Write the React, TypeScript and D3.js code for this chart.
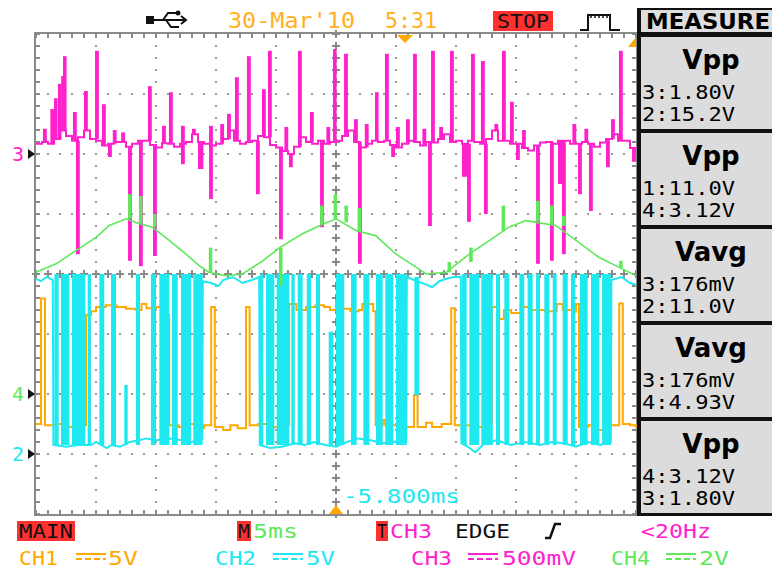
import React from "react";
import * as d3 from "d3";

const W = 772;
const H = 572;

// CH3 (magenta) resting level, one sample every 0.5 ms, in screen divisions
const ch3Base = [
  2.17, 2.2, 2.17, 2.25, 2.39, 2.3, 2.22, 2.28, 2.39, 2.25,
  2.22, 2.14, 2.17, 2.2, 2.2, 2.12, 2.17, 2.22, 2.22, 2.15,
  2.11, 2.18, 2.17, 2.12, 2.17, 2.2, 2.33, 2.2, 2.17, 2.14,
  2.17, 2.25, 2.39, 2.22, 2.17, 2.2, 2.22, 2.3, 2.28, 2.15,
  2.11, 2.05, 2.0, 2.12, 2.28, 2.2, 2.17, 2.22, 2.17, 2.2,
  2.22, 2.3, 2.39, 2.2, 2.11, 2.17, 2.22, 2.2, 2.22, 2.15,
  2.11, 2.17, 2.22, 2.2, 2.14, 2.2, 2.19, 2.25, 2.33, 2.2,
  2.22, 2.17, 2.22, 2.2, 2.17, 2.25, 2.39, 2.22, 2.22, 2.17,
  2.17, 2.1, 2.06, 2.14, 2.19, 2.2, 2.17, 2.22, 2.22, 2.17,
  2.17, 2.2, 2.17, 2.12, 2.19, 2.25, 2.33, 2.22, 2.22, 2.1,
  2.11,
];

// CH3 spikes: [ms, tip (div), width ms]
const ch3Up = [
  [0.58, 2.42], [1.2, 2.75, 0.35], [1.5, 2.93, 0.3], [1.83, 3.17, 0.3], [2.1, 3.3], [2.25, 3.63, 0.3],
  [3.08, 2.7], [4.0, 3.05], [4.92, 3.72], [5.5, 2.83], [6.4, 2.4], [7.1, 2.36], [9.33, 3.13],
  [10.5, 2.47], [11.08, 3.03], [12.08, 2.47], [13.0, 2.42], [14.42, 2.47], [15.35, 2.5],
  [15.92, 2.67], [16.58, 3.28], [17.58, 3.63], [18.83, 3.08], [19.33, 3.72], [20.7, 2.45],
  [21.83, 3.72], [22.83, 2.7], [24.2, 2.45], [24.75, 3.75, 0.3], [25.67, 3.67], [26.5, 2.58],
  [27.4, 2.5], [28.25, 3.03, 0.3], [29.08, 3.67], [30.0, 2.45], [30.83, 2.58], [31.42, 3.67],
  [32.2, 2.42], [32.92, 3.72], [33.6, 2.45], [34.5, 3.72], [36.25, 3.67], [37.08, 3.55],
  [38.2, 2.5], [38.83, 3.72], [39.5, 2.87], [40.5, 2.4], [44.7, 2.5], [45.7, 2.42],
  [47.92, 2.58], [48.58, 3.72],
];
const ch3Down = [
  [3.33, 0.33], [6.0, 1.95], [7.67, 0.22], [8.58, 0.13], [9.75, 0.3], [12.08, 1.83], [13.5, 1.75, 0.45],
  [14.42, 1.25], [18.33, 1.33], [20.25, 0.58], [21.08, 1.78], [23.67, 0.78], [26.83, 0.17],
  [29.6, 1.95], [32.67, 0.8], [35.5, 1.62, 0.45], [35.92, 0.87], [37.33, 1.0], [40.0, 1.9],
  [41.67, 0.17], [42.83, 0.22], [43.5, 1.5, 0.45], [43.83, 0.33], [45.17, 1.33], [46.08, 1.05],
  [47.5, 1.78], [49.67, 1.87],
];

// CH4 (green) triangle wave: [ms, div]
const ch4Trace = [
  [0, 0.03], [1.67, 0.17], [3.33, 0.39], [5, 0.61], [6.1, 0.81], [7.5, 0.92], [8.33, 0.86],
  [9.7, 0.78], [11.1, 0.56], [12.5, 0.33], [13.6, 0.14], [14.4, 0.03], [15.8, -0.03], [17.2, 0],
  [18.9, 0.22], [20.3, 0.44], [22.2, 0.67], [23.9, 0.83], [25, 0.92], [26.7, 0.72], [28.3, 0.64],
  [30, 0.33], [31.7, 0.11], [32.5, 0], [34.2, 0.03], [36.1, 0.33], [37.8, 0.56], [39.4, 0.78],
  [40.8, 0.89], [41.7, 0.86], [43.3, 0.81], [45, 0.56], [46.9, 0.28], [48.6, 0.11], [50, -0.03],
];
// CH4 glitches: [ms, from, to]
const ch4Spikes = [
  [7.67, 0.92, 1.33], [8.58, 0.85, 1.3], [9.75, 0.78, 1.0], [14.4, 0.03, 0.44], [20.25, 0.44, -0.2],
  [23.67, 0.83, 1.14], [24.8, 0.92, 1.33], [25.7, 0.86, 1.14], [26.8, 0.72, 1.1], [34.3, 0.03, 0.2],
  [36.1, 0.2, 0.44], [38.8, 0.72, 1.14], [41.67, 0.88, 1.22], [42.83, 0.83, 1.14], [43.83, 0.8, 0.97],
  [48.6, 0.1, 0.22],
];

// CH1 (orange): [ms, div], drawn as steps
const ch1Trace = [
  [0, -2.5], [0.42, -0.41], [0.75, -2.52], [1.5, -2.5], [2.5, -2.55], [3.3, -2.52], [4.17, -0.68],
  [4.6, -0.62], [5.0, -0.55], [5.8, -0.52], [6.7, -0.55], [7.5, -0.58], [8.3, -0.6], [8.8, -0.5],
  [9.2, -0.57], [10.0, -0.55], [10.8, -0.68], [11.1, -2.52], [11.9, -2.55], [12.5, -2.5], [13.2, -2.57],
  [14.0, -2.52], [14.6, -0.55], [14.9, -2.55], [15.6, -2.6], [16.2, -2.52], [16.8, -2.57], [17.5, -0.55],
  [17.8, -2.52], [18.5, -2.5], [19.4, -2.55], [20.2, -2.52], [21.1, -0.5], [21.7, -0.6], [22.5, -0.55],
  [23.3, -0.52], [24.0, -0.55], [24.5, -0.6], [25.0, -0.45], [25.5, -0.58], [26.2, -0.62], [26.9, -0.6],
  [27.2, -0.5], [28.1, -0.62], [28.3, -2.52], [28.9, -2.43], [29.1, -2.52], [30.0, -2.5], [30.8, -2.55],
  [31.5, -2.02], [31.8, -2.55], [32.5, -2.48], [33.0, -2.55], [33.8, -2.5], [34.6, -0.57], [34.9, -2.52],
  [35.8, -2.52], [36.6, -2.55], [37.3, -2.5], [38.0, -0.55], [38.6, -0.75], [39.0, -0.6], [39.6, -0.65],
  [40.4, -0.55], [41.2, -0.6], [42.4, -0.62], [43.4, -0.5], [43.9, -0.6], [44.8, -0.63], [45.0, -0.5],
  [45.25, -2.55], [46.0, -2.52], [46.8, -2.6], [47.6, -2.52], [48.6, -0.49], [48.9, -2.5], [49.5, -2.52],
  [50, -2.57],
];

// CH2 (cyan) envelope line: [ms, div]
const ch2Trace = [
  [0, -0.08], [0.4, -0.12], [0.9, -0.05], [1.4, -0.1], [1.45, -2.85], [2.5, -2.88], [3.5, -2.85],
  [4.6, -2.85], [5.0, -2.8], [5.9, -2.9], [6.3, -2.85], [7.0, -2.88], [7.8, -2.8], [8.6, -2.77],
  [9.2, -2.74], [10.0, -2.77], [11.1, -2.74], [12.2, -2.77], [13.0, -2.8], [13.85, -2.74], [13.9, -0.12],
  [14.6, -0.15], [15.2, -0.2], [15.6, -0.1], [16.4, -0.05], [17.2, -0.15], [18.0, -0.1], [18.6, -0.05],
  [18.65, -2.85], [19.5, -2.9], [20.5, -2.88], [21.6, -2.82], [22.4, -2.85], [23.2, -2.8], [24.1, -2.85],
  [25.0, -2.88], [25.9, -2.8], [26.8, -2.74], [27.9, -2.77], [28.9, -2.82], [29.9, -2.79], [30.85, -2.8],
  [30.9, -0.05], [31.5, -0.1], [32.6, -0.18], [33.0, -0.22], [33.6, -0.12], [34.2, -0.08], [34.8, -0.05],
  [35.4, -0.05], [35.45, -2.82], [36.0, -2.88], [36.6, -2.97], [37.4, -2.82], [38.4, -2.77], [39.6, -2.85],
  [40.8, -2.8], [42.0, -2.85], [43.0, -2.8], [44.0, -2.82], [45.0, -2.88], [46.0, -2.8], [47.0, -2.85],
  [47.9, -2.8], [47.95, -0.1], [48.8, -0.05], [49.5, -0.15], [50, -0.18],
];
// CH2 switching bursts: [start ms, end ms, low div, high div]
const ch2Bars = [
  [1.53, 1.89], [2.08, 2.78], [3.0, 4.11], [4.31, 4.58], [5.28, 5.69], [6.25, 6.67],
  [7.36, 7.64, -2.85, -1.85], [8.33, 8.67], [9.58, 10.0], [10.28, 11.11], [11.33, 11.81],
  [12.08, 12.92], [13.11, 13.89], [18.67, 18.94], [19.17, 19.86], [20.06, 21.11], [21.28, 21.56],
  [21.81, 22.22], [22.56, 22.92], [23.33, 23.67], [24.39, 24.78, -2.85, -0.96], [25.0, 25.69],
  [26.25, 26.72], [27.28, 27.78], [28.33, 28.89], [29.11, 29.78], [30.0, 30.89],
  [31.53, 31.94, -2.02, -0.05], [35.5, 35.89], [36.11, 36.94], [37.11, 38.06], [38.33, 38.67],
  [39.03, 39.44], [40.28, 40.69], [40.97, 41.39], [41.67, 42.0], [42.36, 42.78], [43.06, 43.39],
  [43.89, 44.31], [44.58, 44.94], [45.33, 45.97], [46.25, 46.94], [47.17, 47.92],
];

const measureTitles = ["Vpp", "Vpp", "Vavg", "Vavg", "Vpp"];
const measureLine1 = ["3:1.80V", "1:11.0V", "3:176mV", "3:176mV", "4:3.12V"];
const measureLine2 = ["2:15.2V", "4:3.12V", "2:11.0V", "4:4.93V", "3:1.80V"];

const channelNames = ["CH1", "CH2", "CH3", "CH4"];
const channelScales = ["5V", "5V", "500mV", "2V"];
const channelColors = ["#ffa800", "#1ee8f0", "#ff22cc", "#5ee85a"];
// ground markers on the left edge: [label, div, colour]
const groundMarks = [
  ["3", 2, "#ff22cc"],
  ["4", -2, "#5ee85a"],
  ["2", -3, "#1ee8f0"],
];

const MONO = "'DejaVu Sans Mono', monospace";

const x = d3.scaleLinear().domain([0, 50]).range([36, 636]);
const y = d3.scaleLinear().domain([-4, 4]).range([514, 34]);

const stepLine = d3
  .line<number[]>()
  .x((d) => x(d[0]))
  .y((d) => y(d[1]))
  .curve(d3.curveStepAfter);
const plainLine = d3
  .line<number[]>()
  .x((d) => x(d[0]))
  .y((d) => y(d[1]));

const Grid = () => {
  const dots: JSX.Element[] = [];
  const minorT = d3.range(0, 50.01, 1);
  const minorD = d3.range(-4, 4.001, 0.2);
  [-3, -2, -1, 1, 2, 3].forEach((dv) =>
    minorT.forEach((t, i) =>
      dots.push(<rect key={`h${dv}-${i}`} x={x(t) - 1} y={y(dv) - 1} width={2} height={2} fill="#9a9a9a" />)
    )
  );
  [5, 10, 15, 20, 30, 35, 40, 45].forEach((t) =>
    minorD.forEach((dv, i) =>
      dots.push(<rect key={`v${t}-${i}`} x={x(t) - 1} y={y(dv) - 1} width={2} height={2} fill="#9a9a9a" />)
    )
  );
  // centre cross-hair with small crosses
  minorT.forEach((t, i) =>
    dots.push(
      <path key={`cx${i}`} d={`M${x(t) - 4},${y(0)}h8M${x(t)},${y(0) - 4}v8`} stroke="#8a8a8a" strokeWidth={2} />
    )
  );
  minorD.forEach((dv, i) =>
    dots.push(
      <path key={`cy${i}`} d={`M${x(25) - 4},${y(dv)}h8M${x(25)},${y(dv) - 4}v8`} stroke="#8a8a8a" strokeWidth={2} />
    )
  );
  // border ticks
  minorD.forEach((dv, i) => {
    dots.push(<path key={`lt${i}`} d={`M${x(0)},${y(dv)}h4`} stroke="#8a8a8a" strokeWidth={2} />);
    dots.push(<path key={`rt${i}`} d={`M${x(50)},${y(dv)}h-4`} stroke="#8a8a8a" strokeWidth={2} />);
  });
  minorT.forEach((t, i) => {
    dots.push(<path key={`tt${i}`} d={`M${x(t)},${y(4)}v4`} stroke="#8a8a8a" strokeWidth={2} />);
    dots.push(<path key={`bt${i}`} d={`M${x(t)},${y(-4)}v-4`} stroke="#8a8a8a" strokeWidth={2} />);
  });
  return (
    <g>
      {dots}
      <rect x={x(0) - 1} y={y(4) - 1} width={x(50) - x(0) + 2} height={y(-4) - y(4) + 2} fill="none" stroke="#8a8a8a" strokeWidth={2} />
    </g>
  );
};

const Traces = () => {
  const magPath = stepLine(ch3Base.map((v, i) => [i * 0.5, v]));
  const spikeRect = (t: number, tip: number, w: number, color: string, key: string) => {
    const base = ch3Base[Math.floor(t * 2)];
    const x0 = x(t);
    const x1 = Math.max(x0 + 3, x(t + w));
    return (
      <rect key={key} x={x0} y={y(Math.max(base, tip))} width={x1 - x0}
        height={Math.abs(y(base) - y(tip))} fill={color} />
    );
  };
  return (
    <g>
      {/* CH1 */}
      <path d={stepLine(ch1Trace) || ""} fill="none" stroke="#ffa800" strokeWidth={2} />
      {/* CH2 */}
      {ch2Bars.map((b, i) => (
        <rect key={`c${i}`} x={x(b[0])} y={y(b[3] ?? 0)} width={x(b[1]) - x(b[0])}
          height={y(b[2] ?? -2.85) - y(b[3] ?? 0)} fill="#1ee8f0" />
      ))}
      <path d={plainLine(ch2Trace) || ""} fill="none" stroke="#1ee8f0" strokeWidth={2} />
      {/* CH3 */}
      <path d={magPath || ""} fill="none" stroke="#ff22cc" strokeWidth={2} />
      {ch3Up.map((s, i) => spikeRect(s[0], s[1], s[2] ?? 0.32, "#ff22cc", `u${i}`))}
      {ch3Down.map((s, i) => spikeRect(s[0], s[1], s[2] ?? 0.32, "#ff22cc", `d${i}`))}
      {/* CH4 */}
      <path d={plainLine(ch4Trace) || ""} fill="none" stroke="#5ee85a" strokeWidth={1.6} />
      {ch4Spikes.map((s, i) => (
        <rect key={`g${i}`} x={x(s[0])} y={y(Math.max(s[1], s[2]))} width={3.5}
          height={Math.abs(y(s[1]) - y(s[2]))} fill="#5ee85a" />
      ))}
    </g>
  );
};

const DcMark = ({ x0, yy, color }: { x0: number; yy: number; color: string }) => (
  <g stroke={color} strokeWidth={2}>
    <path d={`M${x0},${yy - 3}h30`} />
    <path d={`M${x0},${yy + 2}h30`} strokeDasharray="6 3" />
  </g>
);

const MeasurePanel = () => {
  const tops = [37, 133, 229, 325, 421];
  return (
    <g>
      <rect x={637} y={8} width={135} height={508} fill="#111" />
      <rect x={641} y={10} width={131} height={22} fill="#dedede" />
      <text x={646} y={29} fontFamily="'DejaVu Sans', sans-serif" fontWeight="bold" fontSize={21}
        textLength={124} lengthAdjust="spacingAndGlyphs">MEASURE</text>
      {tops.map((t, i) => (
        <g key={i}>
          <rect x={641} y={t} width={131} height={92} fill="#dcdcdc" />
          <text x={711} y={t + 32} textAnchor="middle" fontFamily="'DejaVu Sans', sans-serif"
            fontWeight="bold" fontSize={26}>{measureTitles[i]}</text>
          <text x={642} y={t + 62} fontFamily={MONO} fontSize={19} textLength={93}
            lengthAdjust="spacingAndGlyphs">{measureLine1[i]}</text>
          <text x={642} y={t + 84} fontFamily={MONO} fontSize={19} textLength={93}
            lengthAdjust="spacingAndGlyphs">{measureLine2[i]}</text>
        </g>
      ))}
    </g>
  );
};

const App = () => {
  const row2x = [19, 215, 411, 611];
  const row2w = [39, 41, 41, 39];
  const dcx = [76, 273, 468, 666];
  const scx = [108, 306, 502, 699];
  const scw = [30, 29, 74, 30];
  return (
    <svg width={W} height={H} style={{ position: "absolute", left: 0, top: 0, background: "#fff" }}>
      <rect width={W} height={H} fill="#fff" />
      <Grid />
      <Traces />

      {/* ground markers */}
      {groundMarks.map(([lab, dv, col]) => (
        <g key={lab as string}>
          <text x={12} y={y(dv as number) + 7} fontFamily={MONO} fontSize={20} fill={col as string}>{lab}</text>
          <path d={`M28,${y(dv as number) - 5}L35,${y(dv as number)}L28,${y(dv as number) + 5}Z`} fill="#111" />
        </g>
      ))}

      {/* trigger markers */}
      <path d="M397,35L413,35L405,43Z" fill="#ffa800" />
      <path d="M636,37L636,47L628,47Z" fill="#ffa800" />
      <path d="M329,514L343,514L336,505Z" fill="#ffa800" />
      <text x={343} y={503} fontFamily={MONO} fontSize={19} fill="#1ee8f0" textLength={117}
        lengthAdjust="spacingAndGlyphs">-5.800ms</text>

      {/* top status bar */}
      <g stroke="#111" strokeWidth={2} fill="none">
        <rect x={147} y={17} width={6} height={6} fill="#111" />
        <path d="M153,20H186M163,20L168,13H176M166,20L171,27H179M181,16L186,20L181,24" />
        <circle cx={178} cy={13} r={1.5} fill="#111" />
      </g>
      <text x={228} y={28} fontFamily={MONO} fontSize={21} fill="#ffb020" textLength={127}
        lengthAdjust="spacingAndGlyphs">30-Mar'10</text>
      <text x={385} y={28} fontFamily={MONO} fontSize={21} fill="#ffb020" textLength={52}
        lengthAdjust="spacingAndGlyphs">5:31</text>
      <rect x={493} y={11} width={60} height={20} fill="#ff3030" />
      <text x={497} y={28} fontFamily={MONO} fontSize={20} fill="#111" textLength={52}
        lengthAdjust="spacingAndGlyphs">STOP</text>
      <path d="M580,30H588V15H610V30H620" fill="none" stroke="#111" strokeWidth={2} />
      <path d="M591,15v3M595,15v3M599,15v3M603,15v3M607,15v3" stroke="#111" strokeWidth={1.5} />

      <MeasurePanel />

      {/* bottom status, row 1 */}
      <rect x={17} y={521} width={58} height={20} fill="#ff3030" />
      <text x={19} y={538} fontFamily={MONO} fontSize={19} fill="#111" textLength={54}
        lengthAdjust="spacingAndGlyphs">MAIN</text>
      <rect x={237} y={521} width={14} height={20} fill="#ff3030" />
      <text x={238} y={538} fontFamily={MONO} fontSize={19} fill="#111" textLength={12}
        lengthAdjust="spacingAndGlyphs">M</text>
      <text x={253} y={538} fontFamily={MONO} fontSize={19} fill="#5ee85a" textLength={45}
        lengthAdjust="spacingAndGlyphs">5ms</text>
      <rect x={376} y={521} width={12} height={20} fill="#ff3030" />
      <text x={377} y={538} fontFamily={MONO} fontSize={19} fill="#111" textLength={10}
        lengthAdjust="spacingAndGlyphs">T</text>
      <text x={390} y={538} fontFamily={MONO} fontSize={19} fill="#ff22cc" textLength={42}
        lengthAdjust="spacingAndGlyphs">CH3</text>
      <text x={455} y={538} fontFamily={MONO} fontSize={19} fill="#111" textLength={55}
        lengthAdjust="spacingAndGlyphs">EDGE</text>
      <path d="M545,538H550L555,524H561" fill="none" stroke="#111" strokeWidth={2.5} />
      <text x={641} y={538} fontFamily={MONO} fontSize={19} fill="#ff22cc" textLength={70}
        lengthAdjust="spacingAndGlyphs">&lt;20Hz</text>

      {/* bottom status, row 2 */}
      {channelNames.map((n, i) => (
        <g key={n}>
          <text x={row2x[i]} y={565} fontFamily={MONO} fontSize={19} fill={channelColors[i]}
            textLength={row2w[i]} lengthAdjust="spacingAndGlyphs">{n}</text>
          <DcMark x0={dcx[i]} yy={557} color={channelColors[i]} />
          <text x={scx[i]} y={565} fontFamily={MONO} fontSize={19} fill={channelColors[i]}
            textLength={scw[i]} lengthAdjust="spacingAndGlyphs">{channelScales[i]}</text>
        </g>
      ))}
    </svg>
  );
};

export default App;
